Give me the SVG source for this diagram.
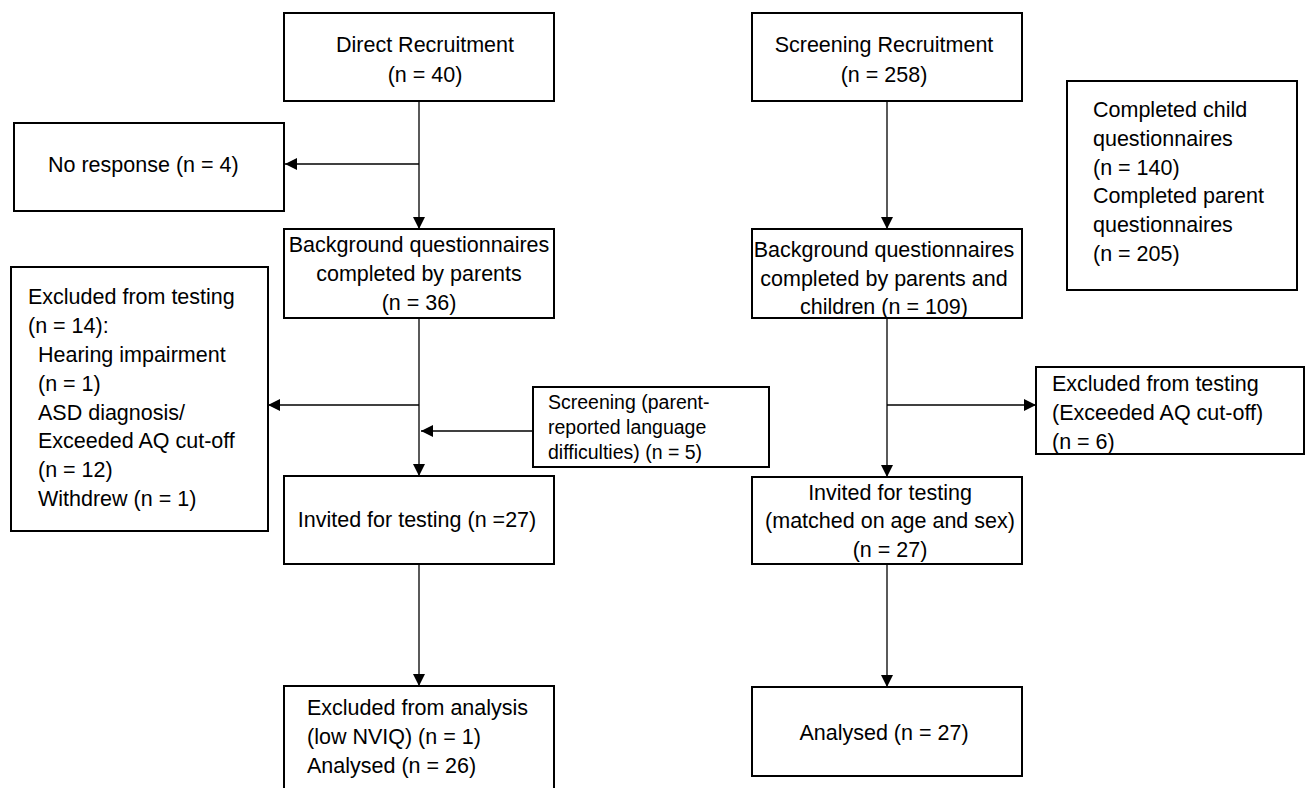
<svg xmlns="http://www.w3.org/2000/svg" width="1306" height="788" viewBox="0 0 1306 788">
<style>
.box{fill:#fff;stroke:#000;stroke-width:2}
.t{font-family:"Liberation Sans",Arial,sans-serif;font-size:21.5px;fill:#000}
.s{font-family:"Liberation Sans",Arial,sans-serif;font-size:19.5px;fill:#000}
.c{text-anchor:middle}
.ln{fill:none;stroke:#000;stroke-width:1.3}
</style>
<defs>
<marker id="ah" markerUnits="userSpaceOnUse" markerWidth="12" markerHeight="12" viewBox="0 0 12 12" refX="12" refY="6" orient="auto">
<path d="M0,0 L12,6 L0,12 Z" fill="#000"/>
</marker>
</defs>
<rect width="1306" height="788" fill="#fff"/>
<g id="connectors">
<line class="ln" x1="419" y1="101" x2="419" y2="229" marker-end="url(#ah)"/>
<line class="ln" x1="419" y1="164" x2="285" y2="164" marker-end="url(#ah)"/>
<line class="ln" x1="419" y1="318" x2="419" y2="476" marker-end="url(#ah)"/>
<line class="ln" x1="419" y1="405" x2="268" y2="405" marker-end="url(#ah)"/>
<line class="ln" x1="533" y1="431" x2="421" y2="431" marker-end="url(#ah)"/>
<line class="ln" x1="419" y1="564" x2="419" y2="686" marker-end="url(#ah)"/>
<line class="ln" x1="887" y1="101" x2="887" y2="229" marker-end="url(#ah)"/>
<line class="ln" x1="887" y1="318" x2="887" y2="477" marker-end="url(#ah)"/>
<line class="ln" x1="887" y1="405" x2="1036" y2="405" marker-end="url(#ah)"/>
<line class="ln" x1="887" y1="564" x2="887" y2="687" marker-end="url(#ah)"/>
</g>
<g id="direct">
<rect class="box" x="284" y="13" width="270" height="88"/>
<text class="t c" x="425" y="52">Direct Recruitment</text>
<text class="t c" x="425" y="82">(n = 40)</text>
</g>
<g id="noresponse">
<rect class="box" x="14" y="123" width="270" height="88"/>
<text class="t" x="48" y="172">No response (n = 4)</text>
</g>
<g id="bg-left">
<rect class="box" x="284" y="229" width="270" height="89"/>
<text class="t c" x="419" y="252">Background questionnaires</text>
<text class="t c" x="419" y="281">completed by parents</text>
<text class="t c" x="419" y="310">(n = 36)</text>
</g>
<g id="excluded-left">
<rect class="box" x="11" y="267" width="257" height="264"/>
<text class="t" x="28" y="304">Excluded from testing</text>
<text class="t" x="28" y="333">(n = 14):</text>
<text class="t" x="38" y="362">Hearing impairment</text>
<text class="t" x="38" y="391">(n = 1)</text>
<text class="t" x="38" y="420">ASD diagnosis/</text>
<text class="t" x="38" y="448">Exceeded AQ cut-off</text>
<text class="t" x="38" y="477">(n = 12)</text>
<text class="t" x="38" y="506">Withdrew (n = 1)</text>
</g>
<g id="screening-lang">
<rect class="box" x="533" y="387" width="236" height="80"/>
<text class="s" x="548" y="409">Screening (parent-</text>
<text class="s" x="548" y="434">reported language</text>
<text class="s" x="548" y="459">difficulties) (n = 5)</text>
</g>
<g id="invited-left">
<rect class="box" x="284" y="476" width="270" height="88"/>
<text class="t c" x="417" y="527">Invited for testing (n =27)</text>
</g>
<g id="analysis-left">
<rect class="box" x="284" y="686" width="270" height="106"/>
<text class="t" x="307" y="715">Excluded from analysis</text>
<text class="t" x="307" y="744">(low NVIQ) (n = 1)</text>
<text class="t" x="307" y="773">Analysed (n = 26)</text>
</g>
<g id="screening-rec">
<rect class="box" x="752" y="13" width="270" height="88"/>
<text class="t c" x="884" y="52">Screening Recruitment</text>
<text class="t c" x="884" y="82">(n = 258)</text>
</g>
<g id="completed">
<rect class="box" x="1067" y="81" width="230" height="209"/>
<text class="t" x="1093" y="117">Completed child</text>
<text class="t" x="1093" y="146">questionnaires</text>
<text class="t" x="1093" y="175">(n = 140)</text>
<text class="t" x="1093" y="203">Completed parent</text>
<text class="t" x="1093" y="232">questionnaires</text>
<text class="t" x="1093" y="261">(n = 205)</text>
</g>
<g id="bg-right">
<rect class="box" x="752" y="229" width="270" height="89"/>
<text class="t c" x="884" y="257">Background questionnaires</text>
<text class="t c" x="884" y="286">completed by parents and</text>
<text class="t c" x="884" y="314">children (n = 109)</text>
</g>
<g id="excluded-right">
<rect class="box" x="1036" y="367" width="268" height="87"/>
<text class="t" x="1052" y="391">Excluded from testing</text>
<text class="t" x="1052" y="420">(Exceeded AQ cut-off)</text>
<text class="t" x="1052" y="449">(n = 6)</text>
</g>
<g id="invited-right">
<rect class="box" x="752" y="477" width="270" height="87"/>
<text class="t c" x="890" y="500">Invited for testing</text>
<text class="t c" x="890" y="528">(matched on age and sex)</text>
<text class="t c" x="890" y="557">(n = 27)</text>
</g>
<g id="analysed-right">
<rect class="box" x="752" y="687" width="270" height="89"/>
<text class="t c" x="884" y="740">Analysed (n = 27)</text>
</g>
</svg>
